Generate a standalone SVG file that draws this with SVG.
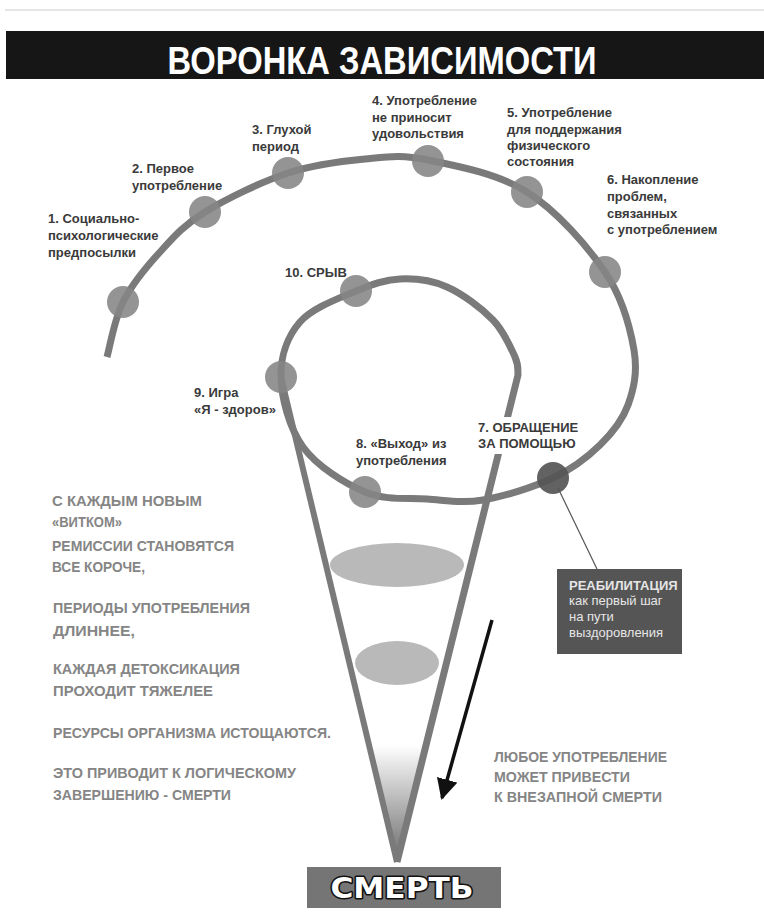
<svg xmlns="http://www.w3.org/2000/svg" width="764" height="919" viewBox="0 0 764 919">
<defs>
<style>
.lbl{font-family:"Liberation Sans",Arial,sans-serif;font-weight:bold;font-size:13px;fill:#3a3a3a}
.side{font-family:"Liberation Sans",Arial,sans-serif;font-weight:bold;font-size:14px;fill:#858585}
.dot{fill:#858585;fill-opacity:0.88}
.wire{fill:none;stroke:#7a7a7a;stroke-width:7;stroke-linecap:butt;stroke-linejoin:round}
.funnel{fill:none;stroke:#7a7a7a;stroke-width:6}
.ell{fill:#b9b9b9}
.rehab{font-family:"Liberation Sans",Arial,sans-serif;font-size:13px;fill:#e6e6e6}
</style>
<linearGradient id="tip" x1="0" y1="745" x2="0" y2="862" gradientUnits="userSpaceOnUse">
<stop offset="0" stop-color="#ffffff"/>
<stop offset="1" stop-color="#6a6a6a"/>
</linearGradient>
<marker id="ah" viewBox="0 0 10 10" refX="9" refY="5" markerWidth="6" markerHeight="6" orient="auto" markerUnits="strokeWidth">
<path d="M0,0 L10,5 L0,10 Z" fill="#111"/>
</marker>
</defs>
<rect x="0" y="0" width="764" height="919" fill="#ffffff"/>
<line x1="5" y1="10" x2="764" y2="10" stroke="#cccccc" stroke-width="1"/>
<g id="title">
<rect x="6" y="31" width="758" height="48" fill="#161616"/>
<text x="382" y="74" text-anchor="middle" font-family="'Liberation Sans',Arial,sans-serif" font-weight="bold" font-size="39" fill="#ffffff" textLength="429" lengthAdjust="spacingAndGlyphs">ВОРОНКА ЗАВИСИМОСТИ</text>
</g>
<g id="funnel-body">
<polygon points="369,745 426,745 397,862" fill="url(#tip)"/>
<ellipse class="ell" cx="397" cy="565" rx="67" ry="22"/>
<ellipse class="ell" cx="397" cy="663" rx="42" ry="22"/>
</g>
<g id="connectors">
<path class="wire" d="M107,357 C109.7,347.8 114.2,319.5 123,302 C131.8,284.5 146.3,267 160,252 C173.7,237 183.7,225.2 205,212 C226.3,198.8 261.3,181.8 288,173 C314.7,164.2 341.7,161.2 365,159 C388.3,156.8 401,154.5 428,160 C455,165.5 497.5,173.3 527,192 C556.5,210.7 587.2,245.7 605,272 C622.8,298.3 630.2,327.8 634,350 C637.8,372.2 633.7,389.2 628,405 C622.3,420.8 612.5,432.8 600,445 C587.5,457.2 572.5,468.8 553,478 C533.5,487.2 504,496.5 483,500 C462,503.5 446.7,500.3 427,499 C407.3,497.7 385.7,500.7 365,492 C344.3,483.3 317,466.2 303,447 C289,427.8 281.5,397.8 281,377 C280.5,356.2 287.5,336.3 300,322 C312.5,307.7 339.3,298.2 356,291 C372.7,283.8 384.8,279.7 400,279 C415.2,278.3 431.5,280.2 447,287 C462.5,293.8 481.7,308.3 493,320 C504.3,331.7 510.8,347.8 515,357 C519.2,366.2 517.5,372 518,375 L397,862"/>
<line class="funnel" x1="281" y1="377" x2="397" y2="862"/>
<line x1="492" y1="620" x2="442" y2="798" stroke="#111" stroke-width="3.5" marker-end="url(#ah)"/>
<line x1="558" y1="488" x2="597" y2="569" stroke="#555" stroke-width="1.2"/>
</g>
<g id="stage1">
<circle class="dot" cx="123" cy="302" r="16"/>
<text class="lbl" x="48" y="223">1. Социально-</text>
<text class="lbl" x="48" y="240">психологические</text>
<text class="lbl" x="48" y="257">предпосылки</text>
</g>
<g id="stage2">
<circle class="dot" cx="205" cy="212" r="16"/>
<text class="lbl" x="132" y="173">2. Первое</text>
<text class="lbl" x="132" y="190">употребление</text>
</g>
<g id="stage3">
<circle class="dot" cx="288" cy="173" r="16"/>
<text class="lbl" x="252" y="134">3. Глухой</text>
<text class="lbl" x="252" y="151">период</text>
</g>
<g id="stage4">
<circle class="dot" cx="428" cy="161" r="16"/>
<text class="lbl" x="372" y="105">4. Употребление</text>
<text class="lbl" x="372" y="122">не приносит</text>
<text class="lbl" x="372" y="138">удовольствия</text>
</g>
<g id="stage5">
<circle class="dot" cx="527" cy="192" r="16"/>
<text class="lbl" x="507" y="117">5. Употребление</text>
<text class="lbl" x="507" y="134">для поддержания</text>
<text class="lbl" x="507" y="150">физического</text>
<text class="lbl" x="507" y="166">состояния</text>
</g>
<g id="stage6">
<circle class="dot" cx="605" cy="272" r="16"/>
<text class="lbl" x="607" y="184">6. Накопление</text>
<text class="lbl" x="607" y="201">проблем,</text>
<text class="lbl" x="607" y="218">связанных</text>
<text class="lbl" x="607" y="234">с употреблением</text>
</g>
<g id="stage7">
<circle cx="553" cy="478" r="16" fill="#555555" fill-opacity="0.92"/>
<rect x="474" y="417" width="100" height="37" fill="#ffffff"/>
<text class="lbl" x="478" y="432">7. ОБРАЩЕНИЕ</text>
<text class="lbl" x="478" y="448">ЗА ПОМОЩЬЮ</text>
</g>
<g id="stage8">
<circle class="dot" cx="365" cy="492" r="16"/>
<text class="lbl" x="356" y="448">8. «Выход» из</text>
<text class="lbl" x="356" y="465">употребления</text>
</g>
<g id="stage9">
<circle class="dot" cx="281" cy="377" r="16"/>
<text class="lbl" x="194" y="397">9. Игра</text>
<text class="lbl" x="194" y="414">«Я - здоров»</text>
</g>
<g id="stage10">
<circle class="dot" cx="356" cy="291" r="16"/>
<text class="lbl" x="285" y="277">10. СРЫВ</text>
</g>
<g id="rehab">
<rect x="557" y="569" width="125" height="85" fill="#555555"/>
<text class="rehab" x="569" y="590" font-weight="bold">РЕАБИЛИТАЦИЯ</text>
<text class="rehab" x="569" y="605">как первый шаг</text>
<text class="rehab" x="569" y="621">на пути</text>
<text class="rehab" x="569" y="637">выздоровления</text>
</g>
<g id="left-notes">
<text class="side" x="52" y="506" textLength="150" lengthAdjust="spacingAndGlyphs">С КАЖДЫМ НОВЫМ</text>
<text class="side" x="52" y="527" textLength="70" lengthAdjust="spacingAndGlyphs">«ВИТКОМ»</text>
<text class="side" x="52" y="551" textLength="182" lengthAdjust="spacingAndGlyphs">РЕМИССИИ СТАНОВЯТСЯ</text>
<text class="side" x="52" y="572" textLength="93" lengthAdjust="spacingAndGlyphs">ВСЕ КОРОЧЕ,</text>
<text class="side" x="53" y="613" textLength="197" lengthAdjust="spacingAndGlyphs">ПЕРИОДЫ УПОТРЕБЛЕНИЯ</text>
<text class="side" x="53" y="636" textLength="82" lengthAdjust="spacingAndGlyphs">ДЛИННЕЕ,</text>
<text class="side" x="53" y="674" textLength="187" lengthAdjust="spacingAndGlyphs">КАЖДАЯ ДЕТОКСИКАЦИЯ</text>
<text class="side" x="53" y="696" textLength="160" lengthAdjust="spacingAndGlyphs">ПРОХОДИТ ТЯЖЕЛЕЕ</text>
<text class="side" x="53" y="738" textLength="278" lengthAdjust="spacingAndGlyphs">РЕСУРСЫ ОРГАНИЗМА ИСТОЩАЮТСЯ.</text>
<text class="side" x="53" y="778" textLength="243" lengthAdjust="spacingAndGlyphs">ЭТО ПРИВОДИТ К ЛОГИЧЕСКОМУ</text>
<text class="side" x="53" y="800" textLength="178" lengthAdjust="spacingAndGlyphs">ЗАВЕРШЕНИЮ - СМЕРТИ</text>
</g>
<g id="right-note">
<text class="side" x="494" y="762" textLength="173" lengthAdjust="spacingAndGlyphs">ЛЮБОЕ УПОТРЕБЛЕНИЕ</text>
<text class="side" x="494" y="782" textLength="136" lengthAdjust="spacingAndGlyphs">МОЖЕТ ПРИВЕСТИ</text>
<text class="side" x="494" y="802" textLength="168" lengthAdjust="spacingAndGlyphs">К ВНЕЗАПНОЙ СМЕРТИ</text>
</g>
<g id="death">
<rect x="307" y="867" width="194" height="41" fill="#757575"/>
<text x="402" y="898" text-anchor="middle" font-family="'DejaVu Sans',sans-serif" font-weight="bold" font-size="28" fill="#ffffff" stroke="#111111" stroke-width="3" paint-order="stroke" stroke-linejoin="round" textLength="143" lengthAdjust="spacingAndGlyphs">СМЕРТЬ</text>
</g>
</svg>
